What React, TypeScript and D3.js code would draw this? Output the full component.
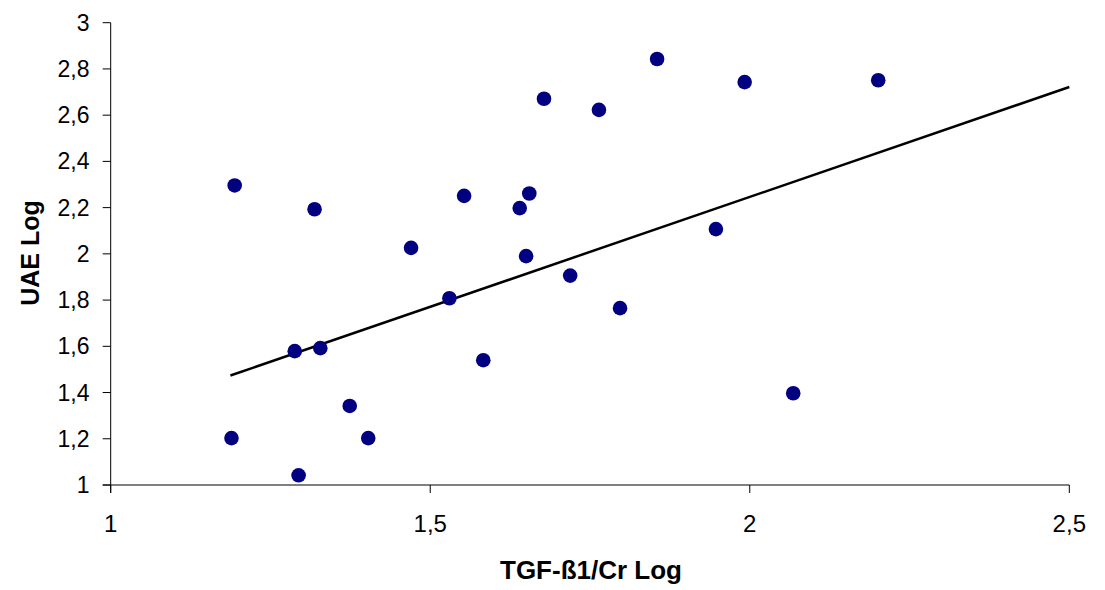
import React from "react";
import * as d3 from "d3";

const tgfLog = [1.194, 1.189, 1.294, 1.288, 1.319, 1.328, 1.374, 1.403, 1.470, 1.530, 1.553, 1.583, 1.640, 1.655, 1.650, 1.719, 1.678, 1.764, 1.797, 1.855, 1.947, 1.992, 2.068, 2.201];
const uaeLog = [2.296, 1.203, 1.042, 1.579, 2.193, 1.592, 1.342, 1.203, 2.026, 1.808, 2.251, 1.540, 2.198, 2.261, 1.990, 1.906, 2.671, 2.623, 1.765, 2.843, 2.107, 2.743, 1.397, 2.751];
const trendX = [1.1873, 2.5];
const trendY = [1.4736, 2.7216];
const xTicks = [1, 1.5, 2, 2.5];
const yTicks = [1, 1.2, 1.4, 1.6, 1.8, 2, 2.2, 2.4, 2.6, 2.8, 3];
const xTitle = "TGF-ß1/Cr Log";
const yTitle = "UAE Log";

const W = 1105;
const H = 590;
const fmt = (v: number) => String(+v.toFixed(1)).replace(".", ",");

export default function App() {
  const x = d3.scaleLinear().domain([1, 2.5]).range([110.7, 1069.3]);
  const y = d3.scaleLinear().domain([1, 3]).range([485, 22.7]);
  const line = d3.line<number>().x((_, i) => x(trendX[i])).y((d) => y(d));
  const font = "Arial, 'Liberation Sans', sans-serif";
  return (
    <svg width={W} height={H} style={{ position: "fixed", left: 0, top: 0, background: "#fff" }} fontFamily={font}>
      {/* axes */}
      <line x1={x(1)} x2={x(1)} y1={y(3)} y2={y(1) + 8} stroke="#000" strokeWidth={1} />
      <line x1={x(1) - 8} x2={x(2.5)} y1={y(1)} y2={y(1)} stroke="#000" strokeWidth={1} />
      {yTicks.map((t) => (
        <g key={"y" + t}>
          <line x1={x(1) - 8} x2={x(1)} y1={y(t)} y2={y(t)} stroke="#000" />
          <text x={89.5} y={y(t)} dy="0.35em" textAnchor="end" fontSize={23} fill="#000">{fmt(t)}</text>
        </g>
      ))}
      {xTicks.map((t) => (
        <g key={"x" + t}>
          <line x1={x(t)} x2={x(t)} y1={y(1)} y2={y(1) + 8} stroke="#000" />
          <text x={x(t)} y={531.5} textAnchor="middle" fontSize={24} fill="#000">{fmt(t)}</text>
        </g>
      ))}
      <path d={line(trendY) || ""} fill="none" stroke="#000" strokeWidth={2.5} />
      {tgfLog.map((v, i) => (
        <circle key={i} cx={x(v)} cy={y(uaeLog[i])} r={7.3} fill="#000080" />
      ))}
      <text x={591} y={578.5} textAnchor="middle" fontSize={26} fontWeight="bold" fill="#000">{xTitle}</text>
      <text transform={`translate(38.5,253) rotate(-90)`} textAnchor="middle" fontSize={25} fontWeight="bold" fill="#000">{yTitle}</text>
    </svg>
  );
}
